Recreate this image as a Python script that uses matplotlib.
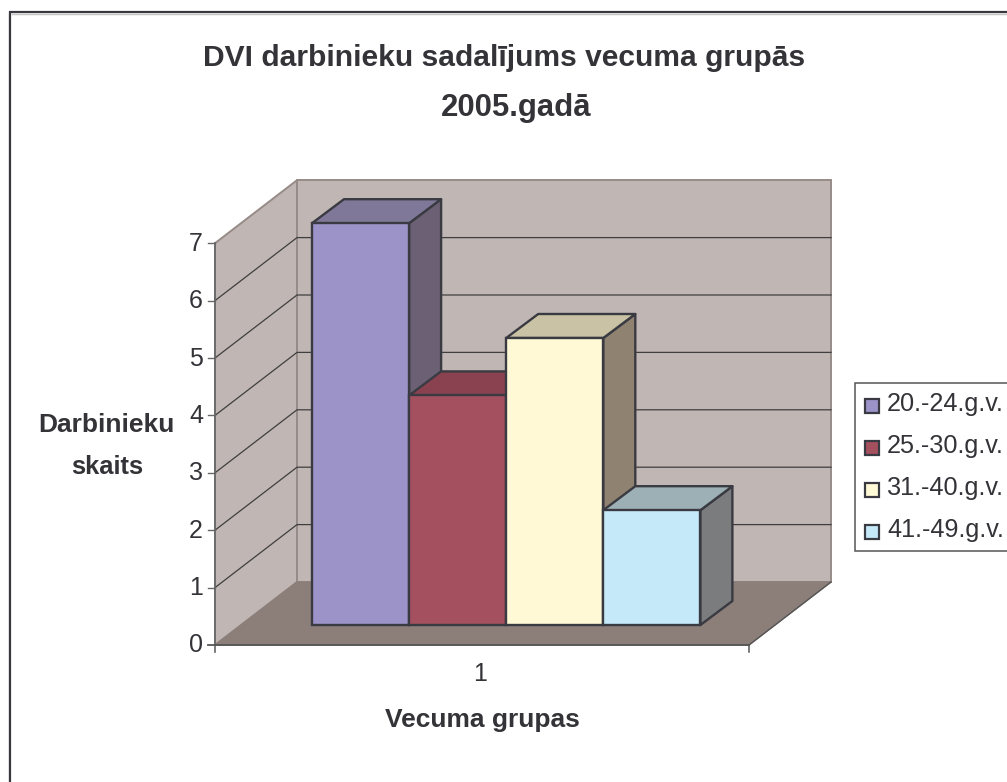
import matplotlib
matplotlib.use("Agg")
import matplotlib.pyplot as plt
from matplotlib.patches import Polygon, Rectangle

series_labels = ["20.-24.g.v.", "25.-30.g.v.", "31.-40.g.v.", "41.-49.g.v."]
values = [7, 4, 5, 2]
front_colors = ["#9C94C9", "#A5505F", "#FFF9D6", "#C6E9FA"]
top_colors = ["#7F7899", "#8A4250", "#C9C2A4", "#9DB0B6"]
side_colors = ["#6B6074", "#8A4250", "#8F8270", "#7A7C7E"]
y_ticks = [0, 1, 2, 3, 4, 5, 6, 7]
category = "1"
title_lines = ["DVI darbinieku sadalījums vecuma grupās", "2005.gadā"]
x_title = "Vecuma grupas"
y_title_lines = ["Darbinieku", "skaits"]

plt.rcParams["font.family"] = ["Liberation Sans", "DejaVu Sans"]
W, H = 1007, 782
fig = plt.figure(figsize=(W / 100, H / 100), dpi=100, facecolor="white")
ax = fig.add_axes([0, 0, 1, 1])
ax.set_xlim(0, W)
ax.set_ylim(H, 0)
ax.axis("off")

# oblique chart scales (figure pixels)
UNIT = 57.4
X0, Y0 = 215, 645      # front-left floor corner, value 0
X1 = 749               # front-right floor corner
DX, DY = 82, -63       # wall depth
BAR_X0, BAR_W = 312, 97.1
BAR_Y0 = 625
BDX, BDY = 32, -24     # bar depth
EDGE = "#3A3A42"
WALL = "#C0B6B3"
WALL_EDGE = "#978B87"
FLOOR = "#8C7F7A"
TXT = "#333338"

def vy(v):
    return Y0 - v * UNIT

ymax = y_ticks[-1]
# frame: only the top and left edges are visible in the picture
ax.plot([11.5, W], [13.5, 13.5], color="#C4C4C4", lw=1.0, zorder=0)
ax.plot([8.5, 8.5], [13.5, H], color="#C4C4C4", lw=1.0, zorder=0)
ax.plot([10, 10, W], [H, 12, 12], color="#38383E", lw=1.6, solid_joinstyle="miter", zorder=0)
# walls
ax.add_patch(Polygon([(X0, vy(0)), (X0 + DX, vy(0) + DY), (X0 + DX, vy(ymax) + DY), (X0, vy(ymax))],
                     fc=WALL, ec=WALL_EDGE, lw=1.4, zorder=1))
ax.add_patch(Polygon([(X0 + DX, vy(0) + DY), (X1 + DX, vy(0) + DY), (X1 + DX, vy(ymax) + DY), (X0 + DX, vy(ymax) + DY)],
                     fc=WALL, ec=WALL_EDGE, lw=1.4, zorder=1))
# floor
ax.add_patch(Polygon([(X0, Y0), (X1, Y0), (X1 + DX, Y0 + DY), (X0 + DX, Y0 + DY)],
                     fc=FLOOR, ec=FLOOR, lw=1, zorder=2))
ax.plot([X1, X1 + DX], [Y0, Y0 + DY], color="#555555", lw=1, zorder=3)

# gridlines
for v in y_ticks[1:]:
    y = vy(v)
    if v < ymax:
        ax.plot([X0, X0 + DX, X1 + DX], [y, y + DY, y + DY], color="#3F3F3F", lw=0.9, zorder=2)
    ax.plot([X0 - 7, X0], [y, y], color="#666666", lw=1, zorder=4)
# axes
ax.plot([X0, X0], [vy(ymax), Y0 + 7], color="#666666", lw=1.2, zorder=4)
ax.plot([X0 - 7, X1], [Y0, Y0], color="#555555", lw=1.3, zorder=4)
ax.plot([X1, X1], [Y0, Y0 + 7], color="#555555", lw=1.1, zorder=4)
for v in y_ticks:
    ax.text(X0 - 12, vy(v) + 0.5, str(v), ha="right", va="center", fontsize=18, color=TXT)
ax.text(480, 674, category, ha="center", va="center", fontsize=18, color=TXT)

# bars, back faces first so each later bar overlaps its neighbour
for i, v in enumerate(values):
    x = BAR_X0 + i * BAR_W
    top = BAR_Y0 - v * UNIT
    z = 5 + i
    ax.add_patch(Polygon([(x + BAR_W, top), (x + BAR_W + BDX, top + BDY),
                          (x + BAR_W + BDX, BAR_Y0 + BDY), (x + BAR_W, BAR_Y0)],
                         fc=side_colors[i], ec=EDGE, lw=1.7, joinstyle="round", zorder=z))
    ax.add_patch(Polygon([(x, top), (x + BAR_W, top), (x + BAR_W + BDX, top + BDY), (x + BDX, top + BDY)],
                         fc=top_colors[i], ec=EDGE, lw=1.7, joinstyle="round", zorder=z))
    ax.add_patch(Rectangle((x, top), BAR_W, v * UNIT, fc=front_colors[i], ec=EDGE, lw=1.7, zorder=z + 0.5))

# titles
ax.text(504.5, 58, title_lines[0], ha="center", va="center", fontsize=21.6, fontweight="bold", color=TXT)
ax.text(516, 108, title_lines[1], ha="center", va="center", fontsize=22.4, fontweight="bold", color=TXT)
ax.text(106.5, 425.5, y_title_lines[0], ha="center", va="center", fontsize=19, fontweight="bold", color=TXT)
ax.text(107.5, 467, y_title_lines[1], ha="center", va="center", fontsize=18.4, fontweight="bold", color=TXT)
ax.text(482.5, 720, x_title, ha="center", va="center", fontsize=19, fontweight="bold", color=TXT)

# legend
ax.add_patch(Rectangle((855, 382.5), 200, 168, fc="white", ec="#555555", lw=1.1, zorder=3))
for i, lab in enumerate(series_labels):
    y = 405.5 + i * 42
    ax.add_patch(Rectangle((864.5, y - 6.5), 14, 14, fc=front_colors[i], ec=EDGE, lw=1.6, zorder=4))
    ax.text(887, y - 1, lab, ha="left", va="center", fontsize=18.2, color=TXT, zorder=4)

fig.savefig("out.png", dpi=100, facecolor="white")
